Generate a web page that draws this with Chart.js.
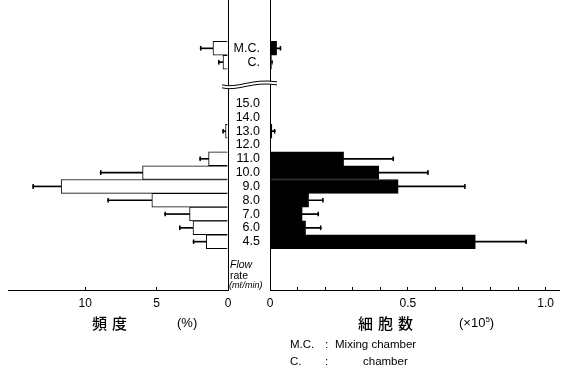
<!DOCTYPE html>
<html>
<head>
<meta charset="utf-8">
<script src="https://cdn.jsdelivr.net/npm/chart.js@4.4.1/dist/chart.umd.min.js"></script>
<style>
  html, body { margin:0; padding:0; background:#fff; }
  body { width:563px; height:369px; position:relative; overflow:hidden; }
  canvas { position:absolute; top:0; }
  .t { position:absolute; color:#000; white-space:pre; line-height:1; }
  .cjk { font-family:"Noto Sans CJK JP","Noto Sans CJK SC",sans-serif; font-size:15px; letter-spacing:5px; font-weight:500; }
  .lat { font-family:"Liberation Sans","Arial",sans-serif; }
  .fn { font-size:11.5px; }
</style>
</head>
<body>
<canvas id="cL" width="240" height="330" style="left:0;width:240px;height:330px"></canvas>
<canvas id="cR" width="363" height="330" style="left:200px;width:363px;height:330px"></canvas>

<div class="t lat" style="left:230px;top:259px;font-size:10.5px;font-style:italic">Flow</div>
<div class="t lat" style="left:230px;top:270px;font-size:10.5px">rate</div>
<div class="t lat" style="left:229px;top:281px;font-size:9px;font-style:italic">(mℓ/min)</div>

<div class="t cjk" style="left:92px;top:315px">頻度</div>
<div class="t lat" style="left:177px;top:316px;font-size:13px">(%)</div>
<div class="t cjk" style="left:358px;top:315px">細胞数</div>
<div class="t lat" style="left:459px;top:316px;font-size:13px">(×10<sup style="font-size:8px">5</sup>)</div>

<div class="t lat fn" style="left:290px;top:339px">M.C.</div>
<div class="t lat fn" style="left:325px;top:339px">:</div>
<div class="t lat fn" style="left:335px;top:339px">Mixing chamber</div>
<div class="t lat fn" style="left:290px;top:356px">C.</div>
<div class="t lat fn" style="left:325px;top:356px">:</div>
<div class="t lat fn" style="left:363px;top:356px">chamber</div>

<script>
// ---- data ----
const categories = ['', '', '', 'M.C.', 'C.', '', '', '15.0', '14.0', '13.0', '12.0', '11.0', '10.0', '9.0', '8.0', '7.0', '6.0', '4.5', '', '', ''];
// frequency (%) – left side, open bars
const freqPct = [null, null, null, 1.05, 0.35, null, null, 0, 0, 0.17, 0, 1.36, 5.98, 11.68, 5.33, 2.69, 2.45, 1.52, null, null, null];
const freqSd  = [null, null, null, 0.90, 0.33, null, null, null, null, 0.21, null, 0.63, 2.97, 2.00, 3.10, 1.75, 0.96, 0.93, null, null, null];
// cell count (x10^5) – right side, filled bars
const cellCount = [null, null, null, 0.024, 0.005, null, null, 0, 0, 0.007, 0, 0.267, 0.395, 0.465, 0.140, 0.117, 0.129, 0.745, null, null, null];
const cellSd    = [null, null, null, 0.016, 0.004, null, null, null, null, 0.012, null, 0.182, 0.180, 0.244, 0.054, 0.060, 0.057, 0.186, null, null, null];
// axis ticks
const freqTicks = [0, 5, 10];
const freqTickLabels = ['0', '5', '10'];
const cellTicks = [0, 0.1, 0.2, 0.3, 0.4, 0.5, 0.6, 0.7, 0.8, 0.9, 1.0];
const cellTickLabels = ['0', '', '', '', '', '0.5', '', '', '', '', '1.0'];

const tickFont = { family: "'Liberation Sans Narrow','Liberation Sans',Arial,sans-serif", size: 12 };
const catFont  = { family: "'Liberation Sans Narrow','Liberation Sans',Arial,sans-serif", size: 12.5 };

function errRange(vals, sds) {
  return vals.map((v, i) => (v != null && sds[i] != null) ? [v, v + sds[i]] : null);
}

function sideDatasets(vals, sds, fill, capSide) {
  const bw = { top: 0, bottom: 0, left: 0, right: 0 };
  bw[capSide] = 1;
  return [
    { data: vals, backgroundColor: fill, borderColor: '#000', borderWidth: 1,
      barPercentage: 1, categoryPercentage: 1, grouped: false, order: 1 },
    { data: errRange(vals, sds), backgroundColor: '#000', borderWidth: 0,
      barThickness: 1, grouped: false, order: 2 },
    { data: errRange(vals, sds), backgroundColor: 'rgba(0,0,0,0)', borderColor: '#000',
      borderWidth: bw, borderSkipped: false, barThickness: 5, grouped: false, order: 3 }
  ];
}

const common = {
  indexAxis: 'y', responsive: false, animation: false, devicePixelRatio: 1,
  plugins: { legend: { display: false }, tooltip: { enabled: false } }
};

const fixY = w => s => { s.width = w; s.paddingTop = 0; s.paddingBottom = 0; };

// ---- left chart: frequency ----
new Chart(document.getElementById('cL'), {
  type: 'bar',
  data: { labels: categories, datasets: sideDatasets(freqPct, freqSd, '#fff', 'left') },
  options: Object.assign({}, common, {
    layout: { padding: { left: 8, right: 12, top: 0, bottom: 0 } },
    scales: {
      x: {
        type: 'linear', reverse: true, min: 0, max: 15.4,
        afterBuildTicks: s => { s.ticks = freqTicks.map(v => ({ value: v })); },
        afterFit: s => { s.height = 40; },
        grid: { drawOnChartArea: false, tickLength: -3, color: '#000', lineWidth: 1 },
        border: { color: '#000', width: 1 },
        ticks: { color: '#000', font: tickFont, padding: 9, maxRotation: 0, autoSkip: false,
                 callback: (v, i) => freqTickLabels[i] }
      },
      y: {
        position: 'right', afterFit: fixY(0),
        ticks: { display: false }, grid: { display: false, drawTicks: false },
        border: { color: '#000', width: 1 }
      }
    }
  })
});

// ---- axis break (wavy lines) on the right chart ----
const breakPlugin = {
  id: 'axisBreak',
  afterDraw(chart) {
    const { ctx, scales: { x, y } } = chart;
    const yc = y.getPixelForValue(5.5);
    const x0 = x.left - 48, x1 = x.left + 7;
    const curve = (dy) => {
      ctx.moveTo(x0, yc + 2 + dy);
      ctx.bezierCurveTo(x0 + 16, yc + 6 + dy, x0 + 30, yc - 5 + dy, x1, yc - 1 + dy);
    };
    ctx.save();
    ctx.beginPath();
    ctx.moveTo(x0, yc + 2);
    ctx.bezierCurveTo(x0 + 16, yc + 6, x0 + 30, yc - 5, x1, yc - 1);
    ctx.lineTo(x1, yc + 2);
    ctx.bezierCurveTo(x0 + 30, yc - 2, x0 + 16, yc + 9, x0, yc + 5);
    ctx.closePath();
    ctx.fillStyle = '#fff';
    ctx.fill();
    ctx.strokeStyle = '#000'; ctx.lineWidth = 1;
    ctx.beginPath(); curve(0); ctx.stroke();
    ctx.beginPath(); curve(3); ctx.stroke();
    ctx.restore();
  }
};

// ---- right chart: cell count ----
new Chart(document.getElementById('cR'), {
  type: 'bar',
  data: { labels: categories, datasets: sideDatasets(cellCount, cellSd, '#000', 'right') },
  plugins: [breakPlugin],
  options: Object.assign({}, common, {
    layout: { padding: { left: 0, right: 1, top: 0, bottom: 0 } },
    scales: {
      x: {
        type: 'linear', min: 0, max: 1.05,
        afterBuildTicks: s => { s.ticks = cellTicks.map(v => ({ value: v })); },
        afterFit: s => { s.height = 40; },
        grid: { drawOnChartArea: false, tickLength: -3, color: '#000', lineWidth: 1 },
        border: { color: '#000', width: 1 },
        ticks: { color: '#000', font: tickFont, padding: 9, maxRotation: 0, autoSkip: false,
                 callback: (v, i) => cellTickLabels[i] }
      },
      y: {
        position: 'left', afterFit: fixY(70),
        grid: { display: false, drawTicks: false },
        border: { color: '#000', width: 1 },
        ticks: { color: '#000', font: catFont, padding: 10, crossAlign: 'near', autoSkip: false }
      }
    }
  })
});
</script>
</body>
</html>
